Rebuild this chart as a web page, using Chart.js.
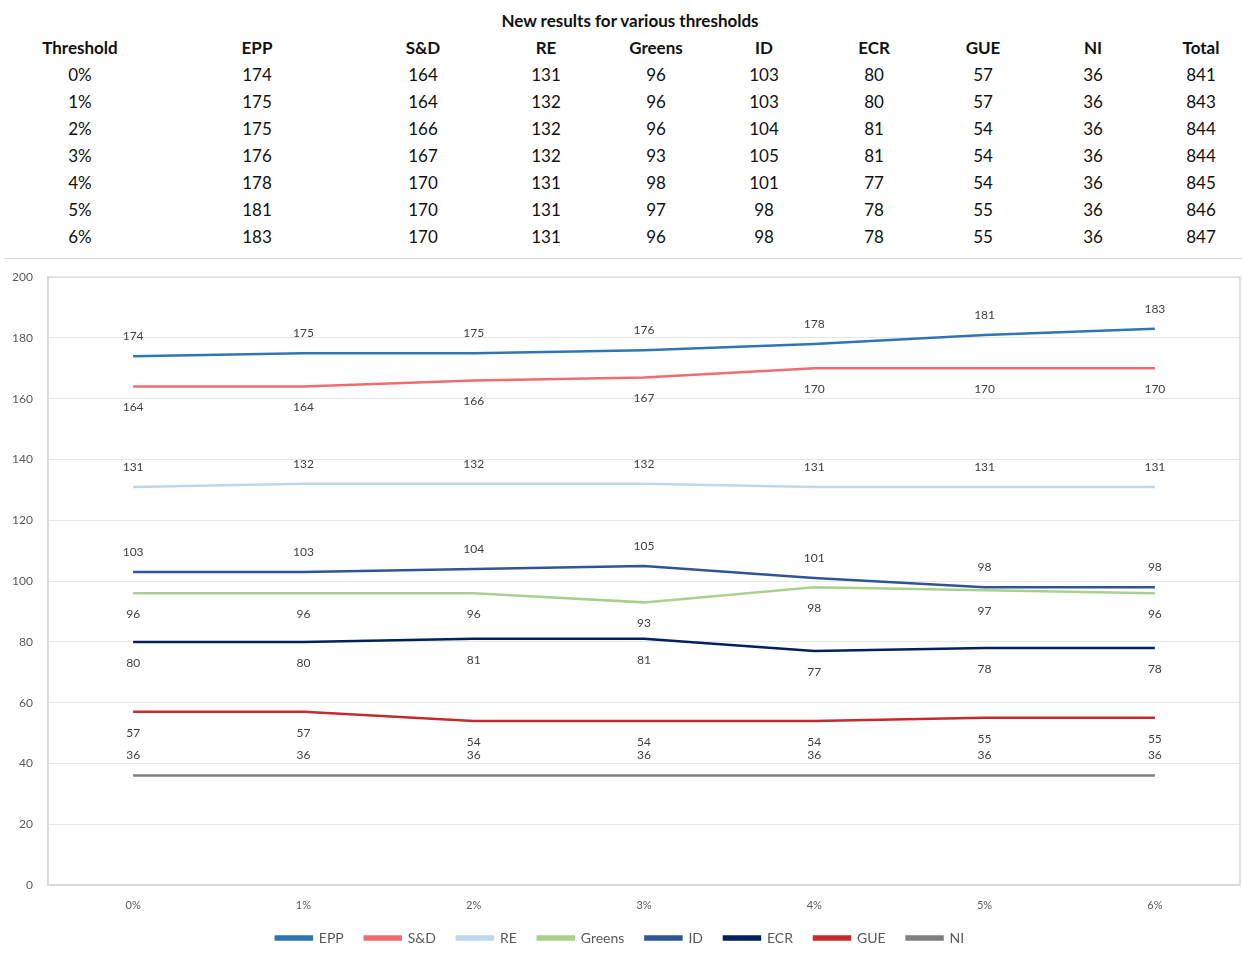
<!DOCTYPE html>
<html>
<head>
<meta charset="utf-8">
<script src="https://cdn.jsdelivr.net/npm/chart.js@4/dist/chart.umd.min.js"></script>
<style>
  body { margin: 0; background: #fff; font-family: Lato, "Open Sans", sans-serif; }
  #wrap { position: relative; width: 1242px; height: 958px; overflow: hidden; }
  #title { position: absolute; top: 10px; left: 0; width: 1260px; text-align: center; font-weight: bold; font-size: 17px; color: #111; }
  .cell { position: absolute; width: 120px; text-align: center; font-size: 17px; color: #111; line-height: 20px; }
  .head { font-weight: bold; }
  #sep { position: absolute; left: 4px; right: 0; top: 258px; border-top: 1.5px solid #d9d9d9; }
  #chart { position: absolute; left: 0; top: 255px; }
</style>
</head>
<body>
<div id="wrap">
  <div id="title">New results for various thresholds</div>
  <div id="tbl"></div>
  <div id="sep"></div>
  <canvas id="chart" width="1242" height="703"></canvas>
</div>
<script>
const thresholds = ['0%', '1%', '2%', '3%', '4%', '5%', '6%'];
const groups = ['EPP', 'S&D', 'RE', 'Greens', 'ID', 'ECR', 'GUE', 'NI'];
const epp    = [174, 175, 175, 176, 178, 181, 183];
const sd     = [164, 164, 166, 167, 170, 170, 170];
const re     = [131, 132, 132, 132, 131, 131, 131];
const greens = [96, 96, 96, 93, 98, 97, 96];
const idg    = [103, 103, 104, 105, 101, 98, 98];
const ecr    = [80, 80, 81, 81, 77, 78, 78];
const gue    = [57, 57, 54, 54, 54, 55, 55];
const ni     = [36, 36, 36, 36, 36, 36, 36];
const totals = [841, 843, 844, 844, 845, 846, 847];
const yTicks = [0, 20, 40, 60, 80, 100, 120, 140, 160, 180, 200];

const series = [epp, sd, re, greens, idg, ecr, gue, ni];
const colors = ['#2e75b6', '#f26b70', '#bdd7ee', '#a9d18e', '#2f5597', '#002060', '#c62a2a', '#7f7f7f'];
const above  = [true, false, true, false, true, false, false, true];

// table above the chart
const tbl = document.getElementById('tbl');
const colX = [80, 257, 423, 546, 656, 764, 874, 983, 1093, 1201];
function addCell(text, x, y, head) {
  const d = document.createElement('div');
  d.className = 'cell' + (head ? ' head' : '');
  d.style.left = (x - 60) + 'px';
  d.style.top = (y - 10) + 'px';
  d.textContent = text;
  tbl.appendChild(d);
}
['Threshold'].concat(groups, ['Total']).forEach((h, c) => addCell(h, colX[c], 48, true));
thresholds.forEach((t, r) => {
  const y = 75 + r * 27;
  addCell(t, colX[0], y);
  series.forEach((s, c) => addCell(s[r], colX[c + 1], y));
  addCell(totals[r], colX[9], y);
});

const valueLabels = {
  id: 'valueLabels',
  afterDatasetsDraw(chart) {
    const ctx = chart.ctx;
    ctx.save();
    ctx.font = '12px Lato, "Open Sans", sans-serif';
    ctx.fillStyle = '#404040';
    ctx.textAlign = 'center';
    ctx.textBaseline = 'middle';
    chart.data.datasets.forEach((ds, i) => {
      chart.getDatasetMeta(i).data.forEach((pt, j) => {
        const dy = ds.labelAbove ? -20 : 21;
        ctx.fillText(ds.data[j], pt.x, pt.y + dy);
      });
    });
    ctx.restore();
  }
};

const plotFrame = {
  id: 'plotFrame',
  beforeDatasetsDraw(chart) {
    const a = chart.chartArea, ctx = chart.ctx;
    ctx.save();
    ctx.strokeStyle = '#d9d9d9';
    ctx.lineWidth = 1.5;
    ctx.strokeRect(a.left, a.top, a.right - a.left, a.bottom - a.top);
    ctx.restore();
  }
};

new Chart(document.getElementById('chart'), {
  type: 'line',
  data: {
    labels: thresholds,
    datasets: series.map((s, i) => ({
      label: groups[i],
      data: s,
      borderColor: colors[i],
      backgroundColor: colors[i],
      borderWidth: 2.5,
      pointRadius: 0,
      tension: 0,
      labelAbove: above[i]
    }))
  },
  options: {
    responsive: false,
    animation: false,
    layout: { padding: { top: 9, right: 2, bottom: 3, left: 0 } },
    scales: {
      x: {
        offset: true,
        grid: { display: false, drawTicks: false },
        border: { color: '#d9d9d9', width: 1.5 },
        ticks: { color: '#595959', font: { size: 11, family: 'Lato' }, padding: 14 },
        afterFit(scale) { scale.height = 25; }
      },
      y: {
        min: 0,
        max: 200,
        afterBuildTicks(scale) { scale.ticks = yTicks.map(v => ({ value: v })); },
        grid: { color: '#e6e6e6', drawTicks: false },
        border: { color: '#d9d9d9', width: 1.5 },
        ticks: { color: '#595959', font: { size: 12, family: 'Lato' }, padding: 15 },
        afterFit(scale) { scale.width = 48; }
      }
    },
    plugins: {
      legend: {
        position: 'bottom',
        labels: {
          boxWidth: 36,
          boxHeight: 3,
          padding: 21,
          color: '#595959',
          font: { size: 14, family: 'Lato' }
        }
      },
      tooltip: { enabled: false }
    }
  },
  plugins: [plotFrame, valueLabels]
});
</script>
</body>
</html>
